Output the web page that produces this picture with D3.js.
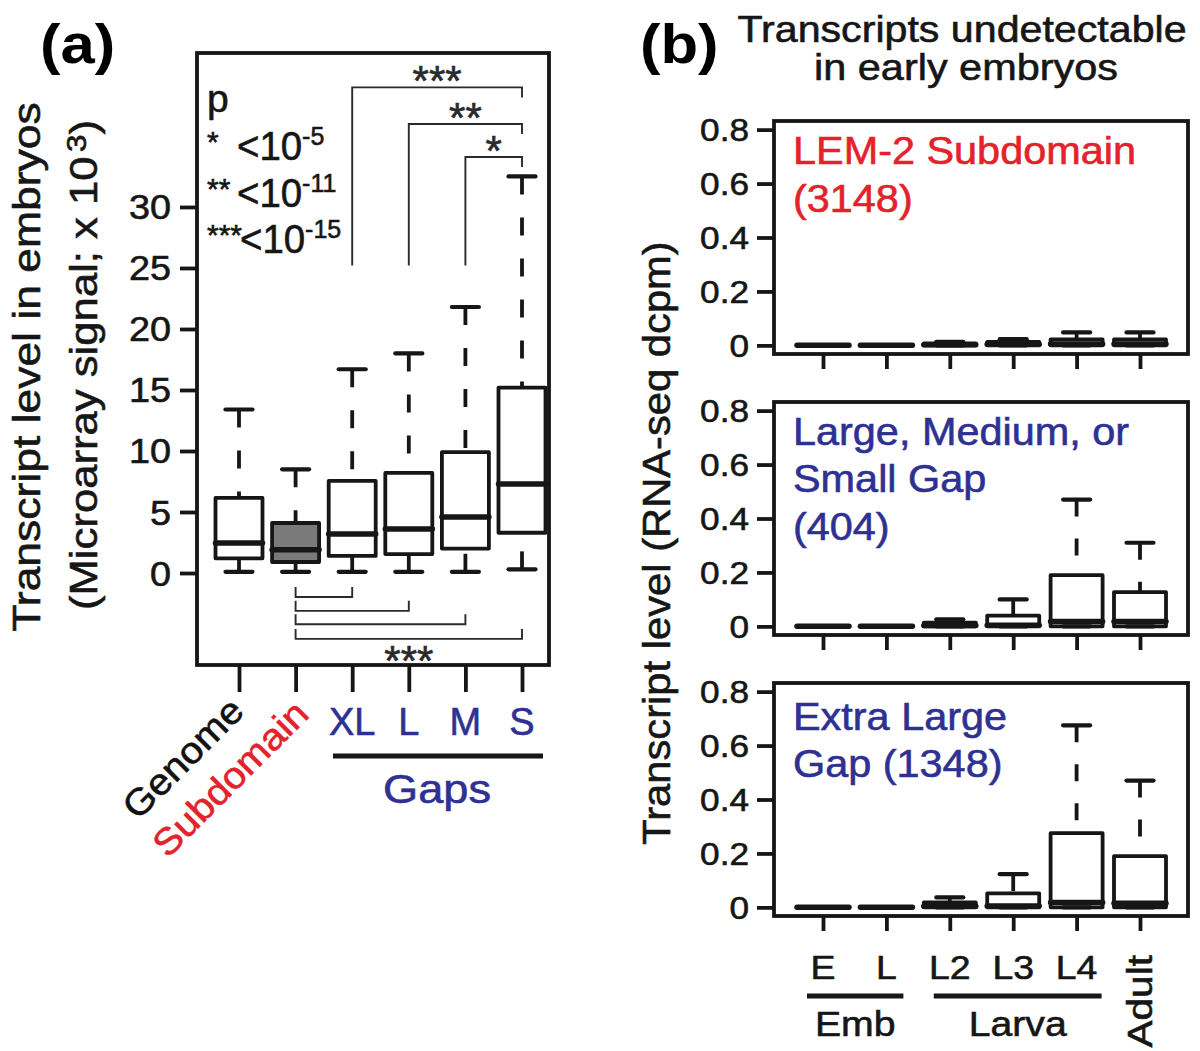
<!DOCTYPE html>
<html><head><meta charset="utf-8">
<script src="https://cdn.jsdelivr.net/npm/d3@7"></script>
<style>body{margin:0;background:#fff} svg{display:block}</style>
</head><body><svg id="c" width="1200" height="1051"></svg>
<script>
const FONT = '"Liberation Sans", Arial, Helvetica, sans-serif';
const RED = "#e3222b", BLUE = "#2e3192", INK = "#161616";

// ---------- Panel (a) data ----------
const categoriesA = ["Genome", "Subdomain", "XL", "L", "M", "S"];
const whiskerLowA  = [0.1, 0.1, 0.1, 0.1, 0.1, 0.3];
const q1A          = [1.2, 0.9, 1.4, 1.55, 2.0, 3.3];
const medianA      = [2.45, 1.9, 3.2, 3.6, 4.6, 7.3];
const q3A          = [6.15, 4.1, 7.55, 8.2, 9.9, 15.2];
const whiskerHighA = [13.4, 8.5, 16.7, 18.0, 21.8, 32.5];
const yTicksA = [0, 5, 10, 15, 20, 25, 30];
const gapLabelsA = ["XL", "L", "M", "S"];
const topBracketFrom  = ["XL", "L", "M"];
const topBracketStars = ["***", "**", "*"];
const topBracketLevel = [39.8, 36.8, 34.1];
const topBracketFoot  = 25.2;
const bottomBracketTo    = ["XL", "L", "M", "S"];
const bottomBracketLevel = [-1.97, -3.1, -4.2, -5.4];
const pLegendStars = ["*", "**", "***"];
const pLegendExp   = ["-5", "-11", "-15"];

// ---------- Panel (b) data ----------
const stagesB = ["E", "L", "L2", "L3", "L4", "Adult"];
const yTicksB = [0, 0.2, 0.4, 0.6, 0.8];
const yTickLabelsB = ["0", "0.2", "0.4", "0.6", "0.8"];
// [low whisker, q1, median, q3, high whisker] per stage
const lemStats = [[0,0,0,0,0],[0,0,0,0,0],[0,0,0.002,0.007,0.013],[0,0,0.004,0.013,0.023],[0,0,0.005,0.022,0.048],[0,0,0.005,0.022,0.048]];
const lmsStats = [[0,0,0,0,0],[0,0,0,0,0],[0,0,0.003,0.014,0.026],[0,0,0.004,0.04,0.10],[0,0,0.018,0.19,0.47],[0,0,0.018,0.127,0.31]];
const xlStats  = [[0,0,0,0,0],[0,0,0,0,0],[0,0,0.004,0.018,0.037],[0,0,0.005,0.052,0.123],[0,0,0.018,0.275,0.675],[0,0,0.015,0.19,0.47]];
const panelTitles = [["LEM-2 Subdomain", "(3148)"], ["Large, Medium, or", "Small Gap", "(404)"], ["Extra Large", "Gap (1348)"]];
const panelColors = [RED, BLUE, BLUE];
const stageGroups = [{name: "Emb", from: "E", to: "L"}, {name: "Larva", from: "L2", to: "L4"}];

const svg = d3.select("#c");
svg.append("rect").attr("width", 1200).attr("height", 1051).attr("fill", "#fff");

function label(parent, str, x, y, o = {}) {
  const col = o.fill || INK;
  const t = parent.append("text")
    .attr("transform", `translate(${x},${y}) rotate(${o.rotate || 0}) scale(${o.sx || 1},1)`)
    .attr("font-family", FONT)
    .attr("font-size", o.size || 36)
    .attr("font-weight", o.weight || "normal")
    .attr("text-anchor", o.anchor || "start")
    .attr("fill", col)
    .attr("stroke", col).attr("stroke-width", o.weight ? 0 : 0.6);
  if (str !== null) t.text(str);
  return t;
}
function line(parent, x1, y1, x2, y2, w, color, extra) {
  const l = parent.append("line").attr("x1", x1).attr("y1", y1).attr("x2", x2).attr("y2", y2)
    .attr("stroke", color || INK).attr("stroke-width", w);
  if (extra) extra(l);
  return l;
}
function drawBox(g, cx, y, st, bw, cw, fill, dash) {
  const [lo, q1, md, q3, hi] = st;
  // whiskers (dash starts at whisker end, as in R)
  [[hi, q3], [lo, q1]].forEach(([a, b]) => {
    if (Math.abs(y(a) - y(b)) > 0.5)
      line(g, cx, y(a), cx, y(b), 3.8, INK, l => l.attr("stroke-dasharray", dash));
  });
  [hi, lo].forEach(v => line(g, cx - cw / 2, y(v), cx + cw / 2, y(v), 4.2, INK, l => l.attr("stroke-linecap", "round")));
  g.append("path")
    .attr("d", `M${cx - bw / 2},${y(q1)}H${cx + bw / 2}V${y(q3)}H${cx - bw / 2}Z`)
    .attr("fill", fill).attr("stroke", INK).attr("stroke-width", 3.8).attr("stroke-linejoin", "round");
  line(g, cx - bw / 2, y(md), cx + bw / 2, y(md), 5.5, INK, l => l.attr("stroke-linecap", "round"));
}

// ================= Panel (a) =================
const A = {left: 197, right: 549, top: 53, bottom: 665};
const xA = d3.scalePoint().domain(categoriesA).range([239, 522]);
const yA = d3.scaleLinear().domain([-7.54, 42.62]).range([A.bottom, A.top]);
const gA = svg.append("g");

label(gA, "(a)", 40, 63, {size: 55, weight: "bold", sx: 1.12, fill: "#000"});

// y axis
const yAxisA = d3.axisLeft(yA).tickValues(yTicksA).tickSize(17).tickFormat(d3.format("d"));
const ya = gA.append("g").attr("transform", `translate(${A.left},0)`).call(yAxisA);
ya.select(".domain").remove();
ya.selectAll(".tick line").attr("stroke", INK).attr("stroke-width", 3.8);
ya.selectAll(".tick text").remove();
yTicksA.forEach(v => label(gA, String(v), 171, yA(v) + 12.5, {size: 35, anchor: "end", sx: 1.08}));

// x axis ticks
const xAxisA = d3.axisBottom(xA).tickSize(27).tickFormat("");
const xa = gA.append("g").attr("transform", `translate(0,${A.bottom})`).call(xAxisA);
xa.select(".domain").remove();
xa.selectAll(".tick line").attr("stroke", INK).attr("stroke-width", 3.8);

// boxes
categoriesA.forEach((c, i) => {
  drawBox(gA, xA(c), yA, [whiskerLowA[i], q1A[i], medianA[i], q3A[i], whiskerHighA[i]], 47, 27,
    c === "Subdomain" ? "#7a7a7a" : "none", "18,23");
});

// frame
gA.append("rect").attr("x", A.left).attr("y", A.top).attr("width", A.right - A.left).attr("height", A.bottom - A.top)
  .attr("fill", "none").attr("stroke", INK).attr("stroke-width", 3.8);

// significance brackets (top)
const BR = "#2a2a2a";
topBracketFrom.forEach((c, i) => {
  const yl = yA(topBracketLevel[i]);
  gA.append("path")
    .attr("d", `M${xA(c)},${yA(topBracketFoot)}V${yl}H${xA("S")}V${yl + 10}`)
    .attr("fill", "none").attr("stroke", BR).attr("stroke-width", 1.9);
  label(gA, topBracketStars[i], (xA(c) + xA("S")) / 2, yl + 8, {size: 42, anchor: "middle", fill: BR});
});
// significance brackets (bottom)
bottomBracketTo.forEach((c, i) => {
  const yl = yA(bottomBracketLevel[i]);
  gA.append("path")
    .attr("d", `M${xA("Subdomain")},${yl - 10}V${yl}H${xA(c)}V${yl - 10}`)
    .attr("fill", "none").attr("stroke", BR).attr("stroke-width", 1.9);
});
label(gA, "***", (xA("Subdomain") + xA("S")) / 2, yA(bottomBracketLevel[3]) + 36, {size: 42, anchor: "middle", fill: BR});

// p legend
label(gA, "p", 207, 112, {size: 39});
const rowBase = [160, 207, 253];
pLegendStars.forEach((s, i) => {
  label(gA, s, 207, rowBase[i] - 8.5, {size: 30});
  const t = label(gA, null, i === 2 ? 240 : 237, rowBase[i], {size: 40, sx: 0.96});
  t.append("tspan").text("<10");
  t.append("tspan").attr("dy", -15).attr("font-size", 26).text(pLegendExp[i]);
});

// y title
label(gA, "Transcript level in embryos", 40, 367, {size: 39, rotate: -90, anchor: "middle", sx: 1.14});
const yt2 = label(gA, null, 97, 365, {size: 39, rotate: -90, anchor: "middle", sx: 1.12});
yt2.append("tspan").text("(Microarray signal; x 10");
yt2.append("tspan").attr("dy", -11).attr("dx", 4).attr("font-size", 28).text("3");
yt2.append("tspan").attr("dy", 11).text(")");

// x labels
gapLabelsA.forEach(c => label(gA, c, xA(c), 735, {size: 38, anchor: "middle", fill: BLUE}));
label(gA, "Genome", xA("Genome") + 7, 713, {size: 37, rotate: -45, anchor: "end", sx: 1.08, fill: "#111"});
label(gA, "Subdomain", xA("Subdomain") + 15, 716, {size: 37, rotate: -45, anchor: "end", sx: 1.08, fill: RED});
line(gA, 333, 756, 543, 756, 5, INK);
label(gA, "Gaps", 437, 803, {size: 40, anchor: "middle", sx: 1.13, fill: BLUE});

// ================= Panel (b) =================
const gB = svg.append("g");
label(gB, "(b)", 640, 63, {size: 55, weight: "bold", sx: 1.12, fill: "#000"});
label(gB, "Transcripts undetectable", 962, 42, {size: 37, anchor: "middle", sx: 1.113});
label(gB, "in early embryos", 966, 80, {size: 37, anchor: "middle", sx: 1.12});

const B = {left: 774, right: 1188, h: 233};
const tops = [121, 402, 683];
const xB = d3.scalePoint().domain(stagesB).range([823, 1140]);
const statsB = [lemStats, lmsStats, xlStats];
const titleBase = [[164, 212], [445, 492, 540], [730, 777]];

statsB.forEach((stats, p) => {
  const top = tops[p], bottom = top + B.h;
  const y = d3.scaleLinear().domain([-0.032, 0.832]).range([bottom, top]);
  const g = gB.append("g");
  const ya = g.append("g").attr("transform", `translate(${B.left},0)`)
    .call(d3.axisLeft(y).tickValues(yTicksB).tickSize(17).tickFormat(""));
  ya.select(".domain").remove();
  ya.selectAll(".tick line").attr("stroke", INK).attr("stroke-width", 3.8);
  yTicksB.forEach((v, i) => label(g, yTickLabelsB[i], 749, y(v) + 11.5, {size: 32, anchor: "end", sx: 1.1}));
  const xa = g.append("g").attr("transform", `translate(0,${bottom})`)
    .call(d3.axisBottom(xB).tickSize(15).tickFormat(""));
  xa.select(".domain").remove();
  xa.selectAll(".tick line").attr("stroke", INK).attr("stroke-width", 3.8);
  stagesB.forEach((s, i) => drawBox(g, xB(s), y, stats[i], 52, 27, "none", "17,22"));
  g.append("rect").attr("x", B.left).attr("y", top).attr("width", B.right - B.left).attr("height", B.h)
    .attr("fill", "none").attr("stroke", INK).attr("stroke-width", 3.8);
  panelTitles[p].forEach((t, k) => label(g, t, 793, titleBase[p][k], {size: 38, sx: 1.09, fill: panelColors[p]}));
});

label(gB, "Transcript level (RNA-seq dcpm)", 670, 543, {size: 39, rotate: -90, anchor: "middle", sx: 1.07});

// stage labels
["E", "L", "L2", "L3", "L4"].forEach(s => label(gB, s, xB(s), 979, {size: 34, anchor: "middle", sx: 1.1}));
label(gB, "Adult", 1152, 955, {size: 35, rotate: -90, anchor: "end", sx: 1.16});
stageGroups.forEach(gr => {
  const x0 = xB(gr.from) - 16, x1 = xB(gr.to) + 17 + (gr.name === "Larva" ? 8 : 0);
  line(gB, x0, 996, x1, 996, 5, INK);
  label(gB, gr.name, (x0 + x1) / 2, 1036, {size: 35, anchor: "middle", sx: 1.12});
});
</script></body></html>
